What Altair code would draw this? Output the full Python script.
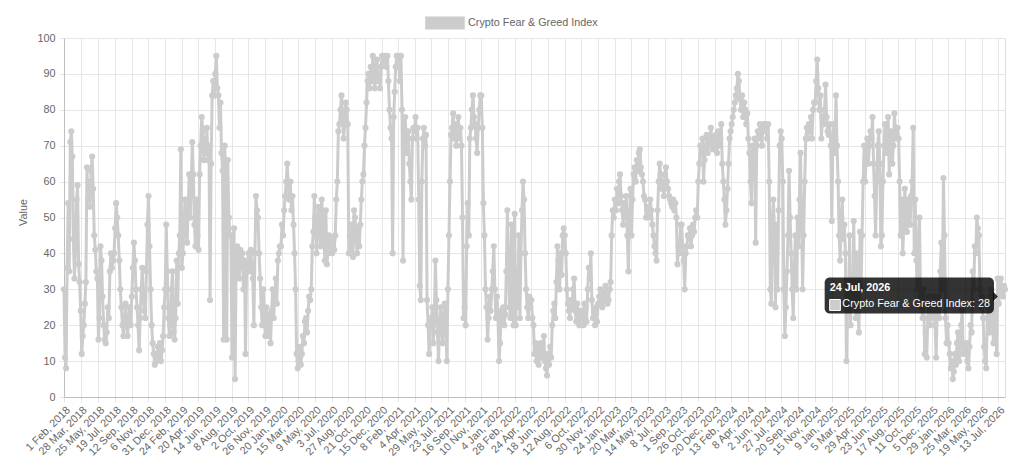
# %%
# load packages
import pandas as pd
import altair as alt

# %%
##########################################
# DATA
##########################################
series_name = "Crypto Fear & Greed Index"

# category labels shown on the x axis (every 55th day)
tick_dates = [
    "2018-02-01", "2018-03-28", "2018-05-25", "2018-07-19", "2018-09-12", "2018-11-06",
    "2018-12-31", "2019-02-24", "2019-04-20", "2019-06-14", "2019-08-08", "2019-10-02",
    "2019-11-26", "2020-01-20", "2020-03-15", "2020-05-09", "2020-07-03", "2020-08-27",
    "2020-10-21", "2020-12-15", "2021-02-08", "2021-04-04", "2021-05-29", "2021-07-23",
    "2021-09-16", "2021-11-10", "2022-01-04", "2022-02-28", "2022-04-24", "2022-06-18",
    "2022-08-12", "2022-10-06", "2022-11-30", "2023-01-24", "2023-03-20", "2023-05-14",
    "2023-07-08", "2023-09-01", "2023-10-26", "2023-12-20", "2024-02-13", "2024-04-08",
    "2024-06-02", "2024-07-27", "2024-09-20", "2024-11-15", "2025-01-09", "2025-03-05",
    "2025-04-29", "2025-06-23", "2025-08-17", "2025-10-11", "2025-12-05", "2026-01-29",
    "2026-03-25", "2026-05-19", "2026-07-13",
]

first_day = "2018-02-01"
last_day = "2026-08-04"

# index value, about every 3-4 days, one row per label interval
values = [
    30, 11, 8, 36, 54, 35, 71, 74, 67, 44, 33, 41, 55, 59, 37, 32,      # 1 Feb 2018
    24, 12, 17, 20, 26, 32, 64, 55, 60, 53, 63, 67, 58, 45, 41, 35,     # 28 Mar 2018
    33, 16, 22, 42, 38, 28, 20, 16, 15, 18, 25, 22, 35, 40, 36, 38,     # 25 May 2018
    40, 47, 54, 50, 45, 38, 30, 25, 20, 17, 22, 26, 20, 17, 22, 25,     # 19 Jul 2018
    20, 28, 36, 43, 38, 30, 25, 20, 13, 22, 30, 36, 28, 24, 22, 35,     # 12 Sep 2018
    48, 56, 42, 30, 20, 15, 12, 9, 12, 10, 14, 11, 15, 10, 13, 17,      # 6 Nov 2018
    25, 30, 48, 35, 22, 17, 20, 30, 35, 18, 16, 22, 38, 26, 40, 45,     # 31 Dec 2018
    69, 36, 40, 48, 55, 46, 43, 52, 62, 50, 60, 71, 62, 48, 42, 55,     # 24 Feb 2019
    45, 41, 62, 70, 78, 74, 66, 72, 68, 75, 66, 70, 27, 65, 84, 88,     # 20 Apr 2019
    84, 90, 95, 86, 84, 75, 82, 68, 63, 16, 70, 62, 16, 66, 50, 45,     # 14 Jun 2019
    45, 11, 40, 47, 5, 38, 42, 40, 33, 41, 36, 40, 30, 38, 12, 35,      # 8 Aug 2019
    38, 40, 35, 41, 37, 33, 20, 40, 56, 52, 50, 40, 33, 25, 20, 30,     # 2 Oct 2019
    22, 17, 25, 20, 17, 23, 15, 24, 30, 22, 28, 33, 26, 38, 40, 42,     # 26 Nov 2019
    42, 48, 45, 52, 56, 60, 65, 58, 55, 60, 52, 56, 48, 40, 30, 12,     # 20 Jan 2020
    8, 10, 14, 9, 12, 17, 15, 21, 22, 18, 24, 28, 27, 30, 42, 46,       # 15 Mar 2020
    56, 50, 40, 45, 53, 48, 42, 55, 50, 44, 38, 52, 37, 40, 45, 42,     # 9 May 2020
    42, 40, 44, 41, 45, 55, 60, 74, 76, 80, 84, 78, 72, 76, 82, 80,     # 3 Jul 2020
    76, 40, 45, 41, 48, 39, 52, 50, 44, 40, 47, 42, 48, 55, 60, 62,     # 27 Aug 2020
    70, 75, 82, 88, 90, 86, 92, 88, 95, 90, 86, 92, 94, 88, 90, 86,     # 21 Oct 2020
    92, 95, 93, 95, 94, 92, 95, 88, 80, 75, 72, 40, 78, 85, 92, 95,     # 15 Dec 2020
    95, 92, 88, 95, 80, 38, 75, 78, 72, 68, 74, 65, 60, 55, 72, 75,     # 8 Feb 2021
    74, 78, 72, 75, 55, 31, 27, 60, 72, 75, 70, 73, 27, 20, 12, 22,     # 4 Apr 2021
    20, 25, 15, 22, 38, 27, 18, 10, 20, 25, 21, 15, 22, 26, 20, 10,     # 29 May 2021
    30, 45, 60, 73, 75, 79, 72, 76, 70, 74, 78, 72, 75, 70, 50, 22,     # 23 Jul 2021
    25, 20, 42, 54, 45, 72, 75, 80, 84, 78, 76, 72, 68, 75, 80, 84,     # 16 Sep 2021
    84, 75, 54, 45, 30, 25, 16, 22, 28, 24, 30, 35, 42, 30, 22, 28,     # 10 Nov 2021
    22, 10, 15, 24, 21, 25, 20, 23, 35, 52, 40, 25, 22, 48, 30, 20,     # 4 Jan 2022
    51, 20, 35, 25, 45, 22, 40, 52, 60, 55, 40, 30, 25, 22, 28, 25,     # 28 Feb 2022
    27, 22, 20, 12, 15, 10, 14, 9, 12, 15, 11, 13, 17, 10, 8, 6,        # 24 Apr 2022
    12, 9, 14, 11, 20, 24, 26, 22, 32, 42, 38, 30, 40, 34, 45, 47,      # 18 Jun 2022
    45, 40, 30, 26, 24, 22, 27, 25, 30, 33, 24, 21, 26, 23, 20, 24,     # 12 Aug 2022
    22, 24, 20, 26, 25, 21, 30, 36, 33, 40, 27, 22, 24, 20, 25, 21,     # 6 Oct 2022
    26, 28, 30, 27, 25, 27, 29, 31, 28, 26, 27, 30, 32, 45, 52, 50,     # 30 Nov 2022
    55, 52, 58, 54, 60, 62, 56, 52, 48, 54, 50, 56, 45, 35, 50, 58,     # 24 Jan 2023
    45, 55, 62, 64, 60, 66, 63, 68, 69, 64, 62, 60, 56, 55, 50, 52,     # 20 Mar 2023
    53, 50, 55, 52, 48, 45, 42, 40, 38, 52, 60, 65, 62, 58, 60, 56,     # 14 May 2023
    62, 64, 60, 58, 56, 55, 54, 53, 55, 52, 54, 50, 37, 42, 40, 48,     # 8 Jul 2023
    48, 42, 38, 30, 40, 42, 45, 44, 47, 42, 45, 48, 46, 50, 52, 50,     # 1 Sep 2023
    60, 65, 70, 68, 72, 60, 66, 70, 73, 68, 72, 70, 75, 72, 69, 70,     # 26 Oct 2023
    70, 73, 68, 74, 70, 72, 76, 65, 60, 55, 48, 52, 58, 65, 72, 74,     # 20 Dec 2023
    76, 78, 80, 82, 84, 86, 90, 88, 83, 80, 84, 78, 82, 80, 76, 79,     # 13 Feb 2024
    72, 68, 60, 54, 70, 66, 72, 43, 70, 74, 72, 76, 74, 70, 75, 76,     # 8 Apr 2024
    76, 74, 72, 76, 60, 30, 26, 50, 55, 45, 25, 48, 30, 52, 70, 74,     # 2 Jun 2024
    72, 60, 30, 17, 25, 35, 45, 63, 50, 40, 30, 22, 35, 45, 30, 50,     # 27 Jul 2024
    42, 55, 68, 50, 30, 45, 60, 72, 75, 72, 76, 74, 78, 72, 80, 82,     # 20 Sep 2024
    82, 88, 94, 86, 80, 84, 72, 78, 76, 80, 87, 78, 74, 73, 76, 70,     # 15 Nov 2024
    49, 72, 76, 68, 84, 70, 60, 45, 38, 50, 55, 44, 48, 40, 10, 25,     # 9 Jan 2025
    25, 45, 20, 32, 28, 49, 30, 22, 40, 25, 18, 46, 30, 45, 60, 70,     # 5 Mar 2025
    60, 68, 72, 65, 70, 74, 72, 78, 65, 56, 45, 60, 70, 74, 65, 42,     # 29 Apr 2025
    45, 60, 70, 76, 68, 72, 78, 62, 70, 74, 65, 70, 79, 74, 72, 75,     # 23 Jun 2025
    72, 60, 45, 55, 40, 48, 58, 52, 46, 55, 50, 48, 56, 60, 75, 40,     # 17 Aug 2025
    55, 38, 30, 42, 50, 28, 25, 22, 30, 12, 18, 11, 22, 28, 20, 25,     # 11 Oct 2025
    25, 22, 28, 20, 11, 24, 28, 22, 35, 43, 30, 61, 45, 22, 15, 20,     # 5 Dec 2025
    15, 12, 8, 10, 5, 7, 12, 9, 15, 18, 10, 14, 20, 24, 12, 14,         # 29 Jan 2026
    12, 15, 10, 8, 14, 20, 18, 35, 30, 42, 40, 50, 47, 45, 30, 25,      # 25 Mar 2026
    28, 22, 14, 10, 8, 22, 25, 18, 28, 30, 20, 15, 22, 26, 12, 33,      # 19 May 2026
    26, 30, 33, 29, 28, 31, 30,                                         # 13 Jul 2026
]

# hovered point shown in the tooltip
tip_date = "2026-07-24"
tip_value = 28

gray = "#cccccc"
text_gray = "#666666"
grid_gray = "#e6e6e6"
font = "Helvetica Neue, Helvetica, Liberation Sans, Arial, sans-serif"
fsize = 10.8


def to_dt(s):
    d = pd.Timestamp(s)
    return alt.DateTime(year=d.year, month=d.month, date=d.day)


fng = pd.DataFrame({
    "date": pd.date_range(first_day, last_day, periods=len(values)),
    "value": values,
    "series": series_name,
})

tip = pd.DataFrame({
    "date": [pd.Timestamp(tip_date)],
    "value": [tip_value],
    "title": [pd.Timestamp(tip_date).strftime("%-d %b, %Y")],
    "label": [f"{series_name}: {tip_value}"],
})

# %%
##########################################
# CHART
##########################################
x_enc = alt.X(
    "date:T",
    title=None,
    scale=alt.Scale(domain=[to_dt(first_day), to_dt(last_day)]),
    axis=alt.Axis(
        values=[to_dt(d) for d in tick_dates],
        format="%-d %b, %Y",
        labelAngle=-45, labelAlign="right", labelBaseline="top",
        labelOverlap=False, labelFlush=False, labelPadding=2,
        labelColor=text_gray, labelFontSize=fsize, labelFont=font,
        tickSize=5, tickColor=grid_gray, gridColor=grid_gray, domainColor="#bfbfbf",
    ),
)
y_enc = alt.Y(
    "value:Q",
    title="Value",
    scale=alt.Scale(domain=[0, 100], nice=False),
    axis=alt.Axis(
        values=list(range(0, 101, 10)),
        labelColor=text_gray, labelFontSize=fsize, labelFont=font, labelPadding=4,
        tickSize=5, tickColor=grid_gray, gridColor=grid_gray, domainColor="#bfbfbf",
        titleColor=text_gray, titleFontSize=fsize, titleFont=font,
        titleFontWeight="normal", titlePadding=8, titleY=174,
    ),
)

base = alt.Chart(fng).encode(x=x_enc, y=y_enc)

line = base.mark_line(color=gray, strokeWidth=3)

dots = base.mark_circle(size=38, opacity=1).encode(
    color=alt.Color(
        "series:N",
        scale=alt.Scale(range=[gray]),
        legend=alt.Legend(
            title=None, orient="none", legendX=361, legendY=-35,
            symbolType="M-1,-0.3H1V0.3H-1Z", symbolSize=1444,
            symbolFillColor=gray, symbolStrokeColor=gray, symbolOpacity=1,
            labelColor=text_gray, labelFontSize=fsize, labelFont=font, labelOffset=3,
        ),
    )
)

# static copy of the hover tooltip, anchored on the hovered point
tip_base = alt.Chart(tip).encode(x=x_enc, y=y_enc)

tip_box = tip_base.mark_rect(
    color="black", opacity=0.8, cornerRadius=5,
    xOffset=-177, x2Offset=-7.7, yOffset=-19, y2Offset=17,
).encode(x2="date:T", y2="value:Q")

tip_caret = tip_base.mark_point(
    shape="M0,-1L1,0L0,1Z", filled=True, color="black", opacity=0.8,
    size=100, xOffset=-8.7, strokeWidth=0,
)

tip_swatch = tip_base.mark_rect(
    fill=gray, stroke="white", strokeWidth=1,
    xOffset=-172, x2Offset=-161.3, yOffset=3, y2Offset=14,
).encode(x2="date:T", y2="value:Q")

tip_title = tip_base.mark_text(
    align="left", baseline="middle", dx=-172, dy=-8,
    color="white", fontWeight="bold", fontSize=fsize, font=font,
).encode(text="title:N")

tip_body = tip_base.mark_text(
    align="left", baseline="middle", dx=-159.3, dy=8,
    color="white", fontSize=fsize, font=font,
).encode(text="label:N")

chart = (line + dots + tip_box + tip_caret + tip_swatch + tip_title + tip_body).properties(
    width=941,
    height=359,
    autosize=alt.AutoSizeParams(type="none"),
    padding={"left": 56, "top": 30, "right": 10, "bottom": 70},
).configure_view(stroke=grid_gray).configure(background="white")

chart.save("out.html", embed_options={"renderer": "svg", "actions": False})
